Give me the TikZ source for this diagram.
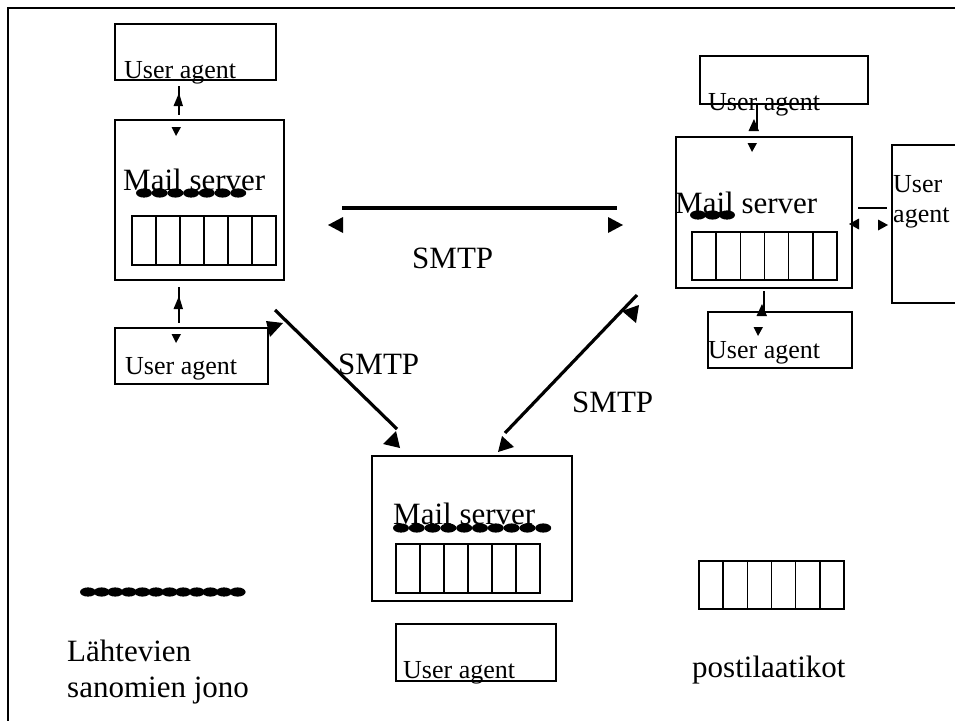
\documentclass[tikz,border=0pt]{standalone}
\usepackage{fontspec}
\setmainfont{Liberation Serif}
\begin{document}
\begin{tikzpicture}[x=1pt,y=-1pt,
  box/.style={draw, line width=1.6pt, inner sep=0pt},
  ua/.style={font=\fontsize{26}{28}\selectfont, inner sep=0pt, anchor=base west},
  big/.style={font=\fontsize{31}{34}\selectfont, inner sep=0pt, anchor=base west},
  thin/.style={line width=1.6pt},
  smtp/.style={line width=3.2pt},
  qdot/.style={fill=black}]
\useasboundingbox (0,0) rectangle (955,720);
\clip (0,0) rectangle (955,720);
% frame
\draw[line width=2pt] (8,722) -- (8,8) -- (960,8);

% ---------- macros for drawing ----------
\newcommand{\gridbox}[5]{% name, x1, y1, x2, y2
  \node[box, minimum width={#4-#2}, minimum height={#5-#3}] (#1) at ({(#2+#4)/2},{(#3+#5)/2}) {};
  \foreach \k in {1,...,5} {\draw[thin] ({#2+\k*(#4-#2)/6},#3) -- ({#2+\k*(#4-#2)/6},#5);}
}
\newcommand{\queue}[4]{% x0, y, count, step
  \foreach \k in {1,...,#3} {\fill[qdot] ({#1+(\k-1)*#4},#2) ellipse [x radius=8, y radius=4.6];}
}

% ---------- top-left server ----------
\node[box, minimum width=161pt, minimum height=56pt] (uaTL) at (195.5,52) {};
\node[ua] (uaTLt) at (124,78) {User agent};
\node[box, minimum width=169pt, minimum height=160pt] (msTL) at (199.5,200) {};
\node[big] (msTLt) at (123,190) {Mail server};
\queue{144}{193}{7}{15.7}
\gridbox{gTL}{132}{216}{276}{265}
\coordinate (tl1a) at (179,86); \coordinate (tl1b) at (179,115);
\draw[thin] (tl1a) -- (tl1b);
\fill (179,93) -- (173.5,106) -- (183,106) -- cycle;
\fill (176,136) -- (171.5,127) -- (181,127) -- cycle;
\node[box, minimum width=153pt, minimum height=56pt] (uaBL) at (191.5,356) {};
\node[ua] (uaBLt) at (125,374) {User agent};
\coordinate (tl2a) at (179,287); \coordinate (tl2b) at (179,323);
\draw[thin] (tl2a) -- (tl2b);
\fill (179,296) -- (173.5,309) -- (183,309) -- cycle;
\fill (176,343) -- (171.5,334) -- (181,334) -- cycle;

% ---------- top-right server ----------
\node[box, minimum width=168pt, minimum height=48pt] (uaTR) at (784,80) {};
\node[ua] (uaTRt) at (708,110) {User agent};
\node[box, minimum width=176pt, minimum height=151pt] (msTR) at (764,212.5) {};
\node[big] (msTRt) at (675,213) {Mail server};
\queue{698}{215}{3}{14.5}
\gridbox{gTR}{692}{232}{837}{280}
\coordinate (tr1a) at (757,104); \coordinate (tr1b) at (757,130);
\draw[thin] (tr1a) -- (tr1b);
\fill (754,119) -- (748.5,131) -- (759,131) -- cycle;
\fill (752,152) -- (747.5,143) -- (757,143) -- cycle;
\node[box, minimum width=144pt, minimum height=56pt] (uaBR) at (780,340) {};
\node[ua] (uaBRt) at (708,358) {User agent};
\coordinate (tr2a) at (764,291); \coordinate (tr2b) at (764,315);
\draw[thin] (tr2a) -- (tr2b);
\fill (762,304) -- (756.5,316) -- (767,316) -- cycle;
\fill (758,336) -- (753.5,327) -- (763,327) -- cycle;
% right user agent
\node[box, minimum width=100pt, minimum height=158pt] (uaR) at (942,224) {};
\node[ua] (uaRt1) at (893,192) {User};
\node[ua] (uaRt2) at (893,222) {agent};
\coordinate (ra) at (858,208); \coordinate (rb) at (887,208);
\draw[thin] (ra) -- (rb);
\fill (849,224) -- (859,218.5) -- (859,229.5) -- cycle;
\fill (888,225) -- (878,219.5) -- (878,230.5) -- cycle;

% ---------- bottom server ----------
\node[box, minimum width=200pt, minimum height=145pt] (msB) at (472,528.5) {};
\node[big] (msBt) at (393,524) {Mail server};
\queue{401}{528}{10}{15.8}
\gridbox{gB}{396}{544}{540}{593}
\node[box, minimum width=160pt, minimum height=57pt] (uaB) at (476,652.5) {};
\node[ua] (uaBt) at (403,678) {User agent};

% ---------- SMTP links ----------
\coordinate (h1) at (342,208); \coordinate (h2) at (617,208);
\draw[smtp] (h1) -- (h2);
\fill (328,225) -- (343,217) -- (343,233) -- cycle;
\fill (623,225) -- (608,217) -- (608,233) -- cycle;
\node[big] (smtpH) at (412,268) {SMTP};

\coordinate (d1a) at (275,310); \coordinate (d1b) at (397,429);
\draw[smtp] (d1a) -- (d1b);
\fill (266,321) -- (283,323) -- (270,337) -- cycle;
\fill (400,448) -- (383,444) -- (396,431) -- cycle;
\node[big] (smtpL) at (338,374) {SMTP};

\coordinate (d2a) at (637,295); \coordinate (d2b) at (505,433);
\draw[smtp] (d2a) -- (d2b);
\fill (639,305) -- (622,311) -- (636,323) -- cycle;
\fill (498,452) -- (502,436) -- (514,447) -- cycle;
\node[big] (smtpR) at (572,412) {SMTP};

% ---------- legend ----------
\queue{88}{592}{12}{13.6}
\node[big] (leg1) at (67,661) {Lähtevien};
\node[big] (leg2) at (67,697) {sanomien jono};
\gridbox{gL}{699}{561}{844}{609}
\node[big] (leg3) at (692,677) {postilaatikot};
\end{tikzpicture}
\end{document}
